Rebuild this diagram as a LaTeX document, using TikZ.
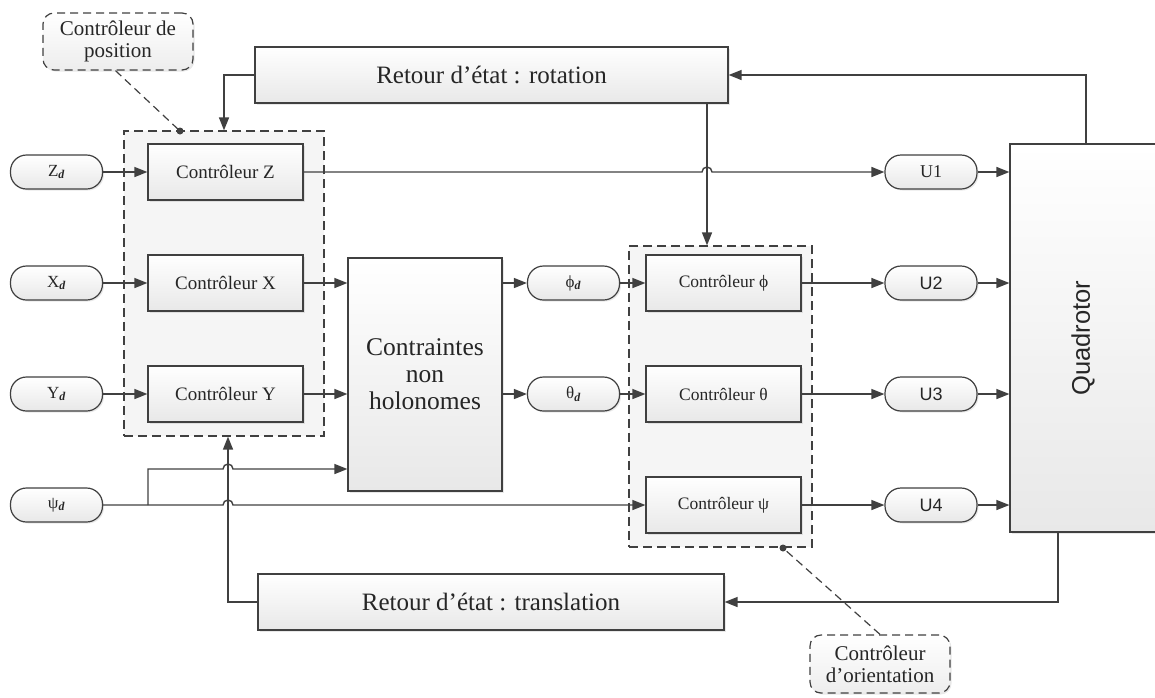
\documentclass[tikz,border=0pt]{standalone}
\usepackage{fontspec}
\setmainfont{Liberation Serif}
\setsansfont{Liberation Sans}
\usepackage{graphicx}
\usetikzlibrary{arrows.meta,shadows}
\definecolor{ln}{HTML}{404040}
\definecolor{tx}{HTML}{262626}
\newcommand{\dsub}[1]{#1\textsubscript{\textbf{\textit{d}}}}
\tikzset{
  shd/.style={drop shadow={shadow xshift=1.5pt,shadow yshift=-1.5pt,opacity=0.18}},
  blk/.style={draw=ln, line width=1.2pt, top color=white, bottom color=black!9, shd,
    inner sep=0pt, align=center, text=tx},
  ctl/.style={blk, minimum width=155pt, minimum height=56pt, font=\rmfamily\fontsize{19}{22}\selectfont},
  octl/.style={ctl, font=\rmfamily\fontsize{17.5}{20}\selectfont},
  pill/.style={blk, rounded corners=16pt, minimum width=92pt, minimum height=34pt,
    font=\rmfamily\fontsize{17}{20}\selectfont},
  group/.style={draw=ln, line width=1.2pt, dash pattern=on 9pt off 5pt, fill=black!4, inner sep=0pt},
  callout/.style={draw=ln, line width=1.2pt, dash pattern=on 8pt off 5pt, rounded corners=11pt,
    top color=white, bottom color=black!7, shd, align=center, inner sep=0pt, text=tx,
    font=\rmfamily\fontsize{21}{22}\selectfont},
  wire/.style={draw=ln, line width=1.4pt},
  arr/.style={wire, -{Triangle[length=13pt,width=10pt]}},
  lead/.style={draw=ln, line width=1.2pt, dash pattern=on 8pt off 5pt}
}
\begin{document}
\begin{tikzpicture}[x=1pt,y=-1pt]
\useasboundingbox (0,0) rectangle (1155,697);

% dashed controller groups
\node[group, minimum width=200pt, minimum height=305pt] (pg) at (224,283.5) {};
\node[group, minimum width=183pt, minimum height=301pt] (og) at (720.5,396.5) {};

% callouts
\node[callout, minimum width=150pt, minimum height=57pt] (cpos) at (118,41.5) {Contrôleur de\\position};
\node[callout, minimum width=140pt, minimum height=58pt] (cori) at (880,664) {Contrôleur\\d’orientation};
\fill[ln] (180,131) circle (3.5pt) coordinate (dpos);
\fill[ln] (783,548) circle (3.5pt) coordinate (dori);
\draw[lead] (cpos.265) -- (dpos);
\draw[lead] (cori.north) -- (dori);

% references
\node[pill] (zd) at (56.5,172) {\dsub{Z}};
\node[pill] (xd) at (56.5,283) {\dsub{X}};
\node[pill] (yd) at (56.5,394) {\dsub{Y}};
\node[pill] (psid) at (56.5,505) {\dsub{ψ}};

% position controllers
\node[ctl] (cz) at (225.5,172) {Contrôleur Z};
\node[ctl] (cx) at (225.5,283) {Contrôleur X};
\node[ctl] (cy) at (225.5,394) {Contrôleur Y};

% constraints block
\node[blk, minimum width=154pt, minimum height=233pt, font=\rmfamily\fontsize{25.5}{27}\selectfont] (ctr) at (425,374.5) {Contraintes\\non\\holonomes};

\node[pill] (phid) at (573.5,283) {\dsub{ϕ}};
\node[pill] (thd) at (573.5,394) {\dsub{θ}};

% orientation controllers
\node[octl] (cphi) at (723.5,283) {Contrôleur ϕ};
\node[octl] (cth) at (723.5,394) {Contrôleur θ};
\node[octl] (cpsi) at (723.5,505) {Contrôleur ψ};

% control inputs
\node[pill, font=\rmfamily\fontsize{18}{20}\selectfont] (u1) at (931,172) {U1};
\node[pill, font=\sffamily\fontsize{18}{20}\selectfont] (u2) at (931,283) {U2};
\node[pill, font=\sffamily\fontsize{18}{20}\selectfont] (u3) at (931,394) {U3};
\node[pill, font=\sffamily\fontsize{18}{20}\selectfont] (u4) at (931,505) {U4};

% plant
\node[blk, minimum width=146pt, minimum height=388pt, font=\sffamily\fontsize{25.5}{28}\selectfont] (quad) at (1083,338) {\rotatebox{90}{Quadrotor}};

% state feedback blocks
\node[blk, minimum width=473pt, minimum height=56pt, font=\rmfamily\fontsize{25}{28}\selectfont] (rot) at (491.5,75) {Retour d’état : rotation};
\node[blk, minimum width=466pt, minimum height=56pt, font=\rmfamily\fontsize{25}{28}\selectfont] (tr) at (491,602) {Retour d’état : translation};

% references into position controllers
\draw[arr] (zd.east) -- (cz.west);
\draw[arr] (xd.east) -- (cx.west);
\draw[arr] (yd.east) -- (cy.west);

% yaw reference: to constraints and to yaw controller
\coordinate (jpsi) at (148,505);
\draw[arr] (jpsi) -- (148,469) -- (223,469) arc[start angle=180,end angle=0,radius=5pt] -- (ctr.west |- 0,469);
\draw[arr] (psid.east) -- (223,505) arc[start angle=180,end angle=0,radius=5pt] -- (cpsi.west);

% position controllers into constraints
\draw[arr] (cx.east) -- (ctr.west |- cx.east);
\draw[arr] (cy.east) -- (ctr.west |- cy.east);

% Z channel straight to U1
\draw[arr] (cz.east) -- (702,172) arc[start angle=180,end angle=0,radius=5pt] -- (u1.west);

% constraints to desired angles
\draw[arr] (ctr.east |- phid.west) -- (phid.west);
\draw[arr] (ctr.east |- thd.west) -- (thd.west);
\draw[arr] (phid.east) -- (cphi.west);
\draw[arr] (thd.east) -- (cth.west);

% orientation controllers to inputs
\draw[arr] (cphi.east) -- (u2.west);
\draw[arr] (cth.east) -- (u3.west);
\draw[arr] (cpsi.east) -- (u4.west);

% inputs to plant
\draw[arr] (u1.east) -- (quad.west |- u1.east);
\draw[arr] (u2.east) -- (quad.west |- u2.east);
\draw[arr] (u3.east) -- (quad.west |- u3.east);
\draw[arr] (u4.east) -- (quad.west |- u4.east);

% rotation feedback
\draw[arr] (quad.north -| 1086,0) |- (rot.east);
\draw[arr] (rot.west) -| (pg.north);
\draw[arr] (rot.south -| 707,0) -- (og.north -| 707,0);

% translation feedback
\draw[arr] (quad.south -| 1058,0) |- (tr.east);
\draw[arr] (tr.west) -| (pg.south -| 228,0);
\end{tikzpicture}
\end{document}
